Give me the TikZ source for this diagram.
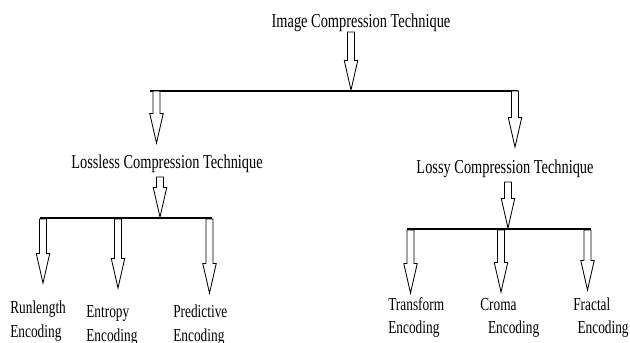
\documentclass[tikz,border=0pt]{standalone}
\usepackage{fontspec}
\setmainfont{Liberation Serif}[FakeStretch=0.73]
\usetikzlibrary{calc}
\tikzset{
    heading/.style = {inner sep = 0pt, anchor = base, font = \fontsize{14}{16}\selectfont},
    leaf/.style = {inner sep = 0pt, anchor = base west, align = left, font = \fontsize{13}{17}\selectfont},
    bar/.style = {line width = 1pt},
    hollow/.style = {line width = 0.6pt, fill = white, line join = miter}
}
\newcommand{\hollowdown}[2]{%
    \draw [hollow] let \p1 = (#1), \p2 = (#2) in
        (\x1-2.5pt,\y1) -- (\x1-2.5pt,\y2+21pt) -- (\x1-4.8pt,\y2+21pt) -- (\x1,\y2)
        -- (\x1+4.8pt,\y2+21pt) -- (\x1+2.5pt,\y2+21pt) -- (\x1+2.5pt,\y1) -- cycle;}

\begin{document}
\begin{tikzpicture}[x = 0.025cm, y = -0.025cm]
    \useasboundingbox (0,0) rectangle (630,342);

    \node [heading] (root) at (361,27) {Image Compression Technique};
    \node [heading] (lossless) at (167,168) {Lossless Compression Technique};
    \node [heading] (lossy) at (505,173) {Lossy Compression Technique};

    % leaf nodes sit on the baseline of their last line
    \node [leaf] (runlength) at (10,337) {Runlength\\Encoding};
    \node [leaf] (entropy) at (86,341) {Entropy\\Encoding};
    \node [leaf] (predictive) at (173,341) {Predictive\\Encoding};
    \node [leaf, font = \fontsize{13}{16}\selectfont] (transform) at (388,333) {Transform\\Encoding};
    \node [leaf, font = \fontsize{13}{16}\selectfont] (croma) at (480,333) {Croma\\\hspace{5.5pt}Encoding};
    \node [leaf, font = \fontsize{13}{16}\selectfont] (fractal) at (573,333) {Fractal\\\hspace{3pt}Encoding};

    % bars
    \coordinate (top-l) at (150,91);
    \coordinate (top-r) at (518,91);
    \coordinate (left-l) at (40,218);
    \coordinate (left-r) at (212,218);
    \coordinate (right-l) at (407,229);
    \coordinate (right-r) at (591,229);
    \draw [bar] (top-l) -- (top-r);
    \draw [bar] (left-l) -- (left-r);
    \draw [bar] (right-l) -- (right-r);

    % arrow ends
    \coordinate (root-out) at (351,32);
    \coordinate (top-in) at (351,90);
    \coordinate (lossless-out) at (156.5,91);
    \coordinate (lossless-in) at (156.5,143);
    \coordinate (lossy-out) at (515,91);
    \coordinate (lossy-in) at (515,147);
    \coordinate (left-out) at (160,177);
    \coordinate (left-in) at (160,217);
    \coordinate (right-out) at (508,182);
    \coordinate (right-in) at (508,228);
    \coordinate (runlength-out) at (43,219);
    \coordinate (runlength-in) at (43,283);
    \coordinate (entropy-out) at (118,219);
    \coordinate (entropy-in) at (118,288);
    \coordinate (predictive-out) at (209.5,219);
    \coordinate (predictive-in) at (209.5,293);
    \coordinate (transform-out) at (410.5,230);
    \coordinate (transform-in) at (410.5,293);
    \coordinate (croma-out) at (501,230);
    \coordinate (croma-in) at (501,292);
    \coordinate (fractal-out) at (587.5,230);
    \coordinate (fractal-in) at (587.5,290);

    \hollowdown{root-out}{top-in}
    \hollowdown{lossless-out}{lossless-in}
    \hollowdown{lossy-out}{lossy-in}
    \hollowdown{left-out}{left-in}
    \hollowdown{right-out}{right-in}
    \hollowdown{runlength-out}{runlength-in}
    \hollowdown{entropy-out}{entropy-in}
    \hollowdown{predictive-out}{predictive-in}
    \hollowdown{transform-out}{transform-in}
    \hollowdown{croma-out}{croma-in}
    \hollowdown{fractal-out}{fractal-in}
\end{tikzpicture}
\end{document}
